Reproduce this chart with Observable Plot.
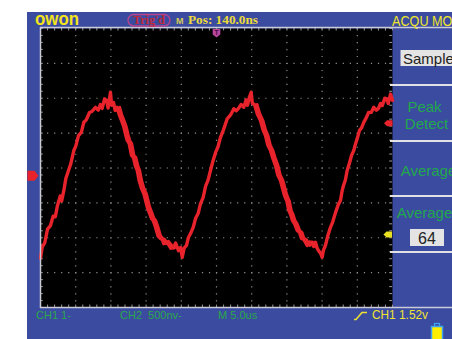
<!DOCTYPE html>
<html><head><meta charset="utf-8">
<script src="https://cdn.jsdelivr.net/npm/d3@7"></script>
<script src="https://cdn.jsdelivr.net/npm/@observablehq/plot@0.6"></script>
<style>
html,body{margin:0;padding:0;background:#fff;}
#wrap{position:relative;width:452px;height:339px;overflow:hidden;}
#bg{position:absolute;left:27px;top:12px;width:425px;height:327px;background:#3b4ba0;}
#chart{position:absolute;left:0;top:0;}
#chart svg{display:block;}
#chrome{position:absolute;left:0;top:0;}
</style></head>
<body>
<div id="wrap"><div id="bg"></div><div id="chart"></div>
<svg id="chrome" width="452" height="339" font-family="Liberation Sans, Arial, sans-serif">
  <line x1="40" x2="452" y1="27.5" y2="27.5" stroke="#c9cbd6" stroke-width="1.5"/>
  <line x1="40" x2="452" y1="307.5" y2="307.5" stroke="#c9cbd6" stroke-width="1.5"/>
  <line x1="40.5" x2="40.5" y1="27" y2="308" stroke="#c9cbd6" stroke-width="1.5"/>
  <g stroke="#e2e2e6" stroke-width="2">
    <line x1="390" x2="452" y1="85" y2="85"/>
    <line x1="390" x2="452" y1="141" y2="141"/>
    <line x1="390" x2="452" y1="196" y2="196"/>
    <line x1="390" x2="452" y1="252" y2="252"/>
  </g>
  <text x="35" y="25" fill="#f3e41c" font-weight="bold" font-size="19" textLength="44" lengthAdjust="spacingAndGlyphs">owon</text>
  <rect x="128" y="14.5" width="42" height="11.5" rx="5.75" fill="none" stroke="#b8468e" stroke-width="1.3"/>
  <text x="149" y="24" text-anchor="middle" fill="#c42a3a" font-family="Liberation Serif, serif" font-weight="bold" font-size="12">Trig'd</text>
  <text x="176" y="23.5" fill="#d6cb5a" font-weight="bold" font-size="9">M</text>
  <text x="188" y="23.5" fill="#ecdc3a" font-family="Liberation Serif, serif" font-weight="bold" font-size="12" textLength="70" lengthAdjust="spacingAndGlyphs">Pos: 140.0ns</text>
  <text x="392" y="26" fill="#f0e62a" font-size="15" textLength="78" lengthAdjust="spacingAndGlyphs">ACQU MODE</text>
  <rect x="400.5" y="50" width="60" height="16" fill="#e4e4e4"/>
  <text x="403" y="64" fill="#222" font-size="15">Sample</text>
  <g fill="#22a84c" font-size="15">
    <text x="424.5" y="111.7" text-anchor="middle">Peak</text>
    <text x="426.5" y="129" text-anchor="middle">Detect</text>
    <text x="400.7" y="176">Average</text>
    <text x="396.7" y="218">Average</text>
  </g>
  <rect x="410" y="229" width="34" height="17" fill="#e4e4e4"/>
  <text x="427" y="243.5" text-anchor="middle" fill="#222" font-size="16">64</text>
  <g fill="#2aa84a" font-size="11">
    <text x="36" y="319" xml:space="preserve">CH1 1-</text>
    <text x="120" y="319" xml:space="preserve">CH2  500nv-</text>
    <text x="218" y="319" xml:space="preserve">M 5.0us</text>
  </g>
  <polyline points="354,319.5 356,319.5 362,312.5 367,312.5" fill="none" stroke="#efe330" stroke-width="1.5"/>
  <text x="372" y="319" fill="#efe330" font-size="12" textLength="56" lengthAdjust="spacingAndGlyphs">CH1 1.52v</text>
  <rect x="434.5" y="323.5" width="5" height="3" fill="#3b4ba0" stroke="#3fa2ee" stroke-width="1.2"/>
  <rect x="431.5" y="326.5" width="11" height="14" fill="#ffee00" stroke="#3fa2ee" stroke-width="1.5"/>
</svg>
</div>
<script>
// CH1 trace: time in µs (5 µs/div), value in screen divisions from centre
const traceT = [
  0, 0.24, 0.6, 1.0, 1.42, 1.8, 2.1, 2.41, 2.8, 3.0,
  3.31, 3.6, 3.98, 4.3, 4.73, 5.0, 5.4, 5.8, 6.15, 6.5,
  6.96, 7.3, 7.81, 8.2, 8.5, 8.76, 9.1, 9.38, 9.6, 9.94,
  10.1, 10.37, 10.6, 10.89, 11.2, 11.51, 11.8, 12.1, 12.32, 12.6,
  12.93, 13.2, 13.5, 13.74, 14.0, 14.35, 14.7, 15.16, 15.5, 15.77,
  16.0, 16.34, 16.7, 17.05, 17.3, 17.51, 17.8, 18.18, 18.5, 18.93,
  19.2, 19.6, 19.9, 20.13, 20.4, 20.74, 21.0, 21.31, 21.7, 22.02,
  22.4, 22.73, 23.1, 23.44, 23.8, 24.15, 24.5, 24.86, 25.2, 25.57,
  26.0, 26.52, 27.0, 27.46, 27.8, 28.13, 28.5, 28.88, 29.2, 29.4,
  29.7, 29.93, 30.1, 30.4, 30.8, 31.25, 31.6, 31.96, 32.3, 32.67,
  33.0, 33.38, 33.7, 34.09, 34.4, 34.66, 35.0, 35.27, 35.5, 35.8,
  36.1, 36.46, 36.8, 37.07, 37.4, 37.88, 38.2, 38.49, 38.8, 39.06,
  39.3, 39.49, 39.8, 40.01, 40.2, 40.48, 40.8, 41.19, 41.5, 41.9,
  42.3, 42.61, 42.8, 43.04, 43.3, 43.56, 43.9, 44.18, 44.5, 44.74,
  45.0, 45.31, 45.6, 45.92, 46.3, 46.59, 47.0, 47.34, 47.7, 48.01,
  48.3, 48.54, 48.9, 49.15, 49.4, 49.72, 50
];
const traceV = [
  -2.59, -2.27, -2.15, -1.75, -1.65, -1.38, -1.40, -1.08, -0.80, -0.95,
  -0.65, -0.30, -0.07, 0.12, 0.50, 0.62, 0.93, 1.02, 1.31, 1.38,
  1.59, 1.62, 1.74, 1.66, 1.82, 1.71, 1.98, 1.94, 1.72, 2.17,
  1.80, 1.88, 1.65, 1.74, 1.52, 1.36, 1.20, 0.95, 0.79, 0.70,
  0.36, 0.30, 0.05, -0.07, -0.35, -0.59, -0.75, -1.12, -1.30, -1.45,
  -1.50, -1.70, -1.95, -2.02, -2.05, -2.17, -2.10, -2.19, -2.30, -2.27,
  -2.15, -2.37, -2.28, -2.56, -2.30, -2.22, -2.00, -1.88, -1.70, -1.45,
  -1.30, -1.02, -0.85, -0.53, -0.35, -0.07, 0.20, 0.44, 0.60, 0.88,
  1.10, 1.41, 1.52, 1.70, 1.64, 1.71, 1.82, 1.74, 1.95, 1.80,
  2.05, 2.17, 1.85, 1.82, 1.55, 1.36, 1.10, 0.93, 0.65, 0.50,
  0.28, 0.07, -0.20, -0.36, -0.60, -0.79, -0.95, -1.22, -1.32, -1.51,
  -1.60, -1.79, -1.85, -2.02, -2.05, -2.22, -2.12, -2.14, -2.25, -2.13,
  -2.30, -2.37, -2.45, -2.56, -2.35, -2.22, -1.95, -1.70, -1.55, -1.28,
  -1.05, -0.93, -0.70, -0.50, -0.35, -0.07, 0.15, 0.36, 0.50, 0.69,
  0.85, 1.08, 1.15, 1.31, 1.45, 1.59, 1.60, 1.74, 1.66, 1.71,
  1.85, 1.79, 2.00, 1.99, 1.85, 2.12, 1.94
];
// spans (µs) where the captured band is widest (falling edges)
const wideSpans = [[10.4, 19.0], [30.2, 38.6]];
const gridXTicks = [0, 5, 10, 15, 20, 25, 30, 35, 40, 45, 50];
const gridYTicks = [-4, -3, -2, -1, 0, 1, 2, 3, 4];
const minorXTicks = d3.range(0, 50.001, 1);
const minorYTicks = d3.range(-4, 4.001, 0.2);
const ch1Ground = -0.22;
const ch1TrigLevel = 1.28;
const ch2Level = -1.91;
const trigTime = 25;

const trace = traceT.map((t, i) => ({t, v: traceV[i]}));
const wide = wideSpans.flatMap(([a, b], k) => trace.filter(d => d.t >= a && d.t <= b).map(d => ({...d, seg: k})));

const sym = (pts) => ({draw(ctx) { ctx.moveTo(pts[0][0], pts[0][1]); for (const p of pts.slice(1)) ctx.lineTo(p[0], p[1]); ctx.closePath(); }});
const pointerRight = sym([[-5.5,-5],[1.5,-5],[5.5,0],[1.5,5],[-5.5,5]]);
const pointerDown = sym([[-3.8,-4],[3.8,-4],[3.8,1.5],[0,4.5],[-3.8,1.5]]);
const blobLeft = sym([[-4.5,0],[-1.5,-3],[4,-3],[4,3],[-1.5,3]]);
const red = "#e8232b";
const gridColor = "#8e8e8e";

const plot = Plot.plot({
  width: 452, height: 339,
  marginLeft: 40, marginRight: 60, marginTop: 28, marginBottom: 32,
  x: {domain: [0, 50], axis: null},
  y: {domain: [-4, 4], axis: null},
  style: {background: "transparent", overflow: "visible"},
  marks: [
    Plot.frame({fill: "black", stroke: null}),
    Plot.gridX(gridXTicks.slice(1, -1), {stroke: gridColor, strokeOpacity: 1, strokeWidth: 1.2, strokeDasharray: "1.2,5.78"}),
    Plot.gridY(gridYTicks.slice(1, -1), {stroke: gridColor, strokeOpacity: 1, strokeWidth: 1.2, strokeDasharray: "1.2,5.84"}),
    Plot.ruleX(minorXTicks, {x: d => d, y1: () => 4, y2: () => 3.93, stroke: gridColor, strokeWidth: 1.1}),
    Plot.ruleX(minorXTicks, {x: d => d, y1: () => -4, y2: () => -3.93, stroke: gridColor, strokeWidth: 1.1}),
    Plot.ruleY(minorYTicks, {y: d => d, x1: () => 50, x2: () => 49.6, stroke: gridColor, strokeWidth: 1.1}),
    Plot.ruleY(minorYTicks, {y: d => d, x1: () => 0, x2: () => 0.4, stroke: gridColor, strokeWidth: 1.1}),
    Plot.line(wide, {x: "t", y: "v", z: "seg", dx: 2.5, stroke: red, strokeWidth: 3, strokeLinejoin: "round"}),
    Plot.line(trace, {x: "t", y: "v", stroke: red, strokeWidth: 3.4, strokeLinejoin: "round"}),
    Plot.dot([ch1Ground], {x: () => 0, y: d => d, dx: -7.5, symbol: pointerRight, r: 1, fill: red, stroke: null}),
    Plot.dot([trigTime], {x: d => d, y: () => 4, dy: 4.5, symbol: pointerDown, r: 1, fill: "#b8489e", stroke: null}),
    Plot.text([trigTime], {x: d => d, y: () => 4, dy: 4, text: () => "T", fill: "#5a1050", fontSize: 7, fontWeight: "bold"}),
    Plot.dot([ch1TrigLevel], {x: () => 50, y: d => d, dx: -4, symbol: blobLeft, r: 1, fill: red, stroke: null}),
    Plot.dot([ch2Level], {x: () => 50, y: d => d, dx: -4.5, symbol: blobLeft, r: 1, fill: "#e8e020", stroke: null})
  ]
});
document.getElementById("chart").appendChild(plot);
</script>
</body></html>
